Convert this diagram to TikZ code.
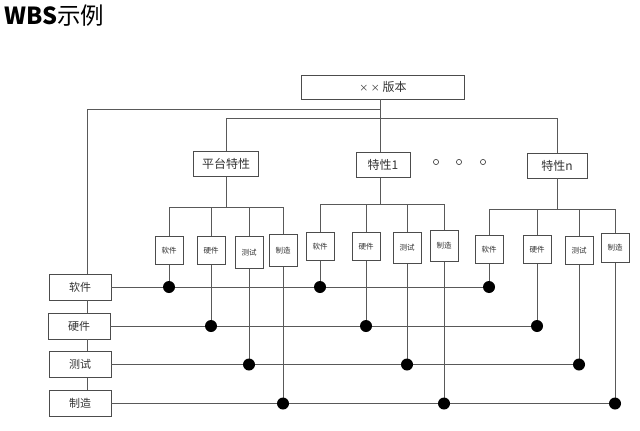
\documentclass[tikz,border=0pt]{standalone}
\usepackage{fontspec}
\setmainfont{Noto Sans CJK SC}
\begin{document}
\begin{tikzpicture}[x=1pt,y=-1pt,
  line/.style={draw=black!65,line width=0.8pt},
  box/.style={draw=black!70,line width=0.8pt,fill=white,inner sep=0pt,text=black!80},
  topbox/.style={box,minimum width=163pt,minimum height=24pt,font=\fontsize{12}{14}\selectfont},
  featbox/.style={box,minimum height=25pt,font=\fontsize{12}{14}\selectfont},
  subbox/.style={box,anchor=north,minimum width=28pt,minimum height=28pt,font=\fontsize{7.5}{9}\selectfont},
  leftbox/.style={box,minimum width=62pt,minimum height=26pt,font=\fontsize{11}{13}\selectfont},
  dot/.style={fill=black},
  ring/.style={draw=black!70,line width=0.7pt}]
\useasboundingbox (0,0) rectangle (640,431);
\node[anchor=west,inner sep=0pt,font=\fontsize{23.5}{26}\selectfont] (title) at (4,16) {\textbf{WBS}示例};
% top
\node[topbox] (top) at (383,87) {{\small×} {\small×} 版本};
\node[featbox,minimum width=65pt] (pt) at (226,164) {平台特性};
\node[featbox,minimum width=54pt] (f1) at (383,165) {特性1};
\node[featbox,minimum width=60pt] (fn) at (557,165.5) {特性n};
% left boxes
\node[leftbox] (L1) at (80,287) {软件};
\node[leftbox] (L2) at (79,326) {硬件};
\node[leftbox] (L3) at (80,364.5) {测试};
\node[leftbox] (L4) at (80,403.5) {制造};
% sub boxes
\node[subbox] (p1) at (169,236) {软件};
\node[subbox] (p2) at (211,236) {硬件};
\node[subbox,minimum height=32pt] (p3) at (249,236) {测试};
\node[subbox,minimum height=32pt] (p4) at (283,234) {制造};
\node[subbox] (a1) at (320,232) {软件};
\node[subbox] (a2) at (366,232) {硬件};
\node[subbox,minimum height=31pt] (a3) at (407,232) {测试};
\node[subbox,minimum height=31pt] (a4) at (444,230) {制造};
\node[subbox] (n1) at (489,235) {软件};
\node[subbox] (n2) at (537,235) {硬件};
\node[subbox] (n3) at (579,236) {测试};
\node[subbox,minimum height=29pt] (n4) at (615,233) {制造};
% dots between features
\draw[ring] (436,162) circle (2.6pt) (459,162) circle (2.6pt) (483,162) circle (2.6pt);
% coordinates
\coordinate (jl) at (380,109);
\coordinate (lx) at (87,109);
\coordinate (bus) at (0,118);
\coordinate (hp) at (0,207);
\coordinate (ha) at (0,204);
\coordinate (hn) at (0,209);
% top connections
\draw[line] (top.south -| jl) -- (f1.north -| jl);
\draw[line] (jl) -- (lx) -- (lx |- L1.north);
\draw[line] (lx |- L1.south) -- (lx |- L2.north);
\draw[line] (lx |- L2.south) -- (lx |- L3.north);
\draw[line] (lx |- L3.south) -- (lx |- L4.north);
\draw[line] (pt.north |- bus) -- (fn.north |- bus);
\draw[line] (pt.north |- bus) -- (pt.north);
\draw[line] (fn.north |- bus) -- (fn.north);
% feature to sub
\draw[line] (pt.south) -- (pt.south |- hp);
\draw[line] (p1.north |- hp) -- (p4.north |- hp);
\foreach \s in {p1,p2,p3,p4} \draw[line] (\s.north |- hp) -- (\s.north);
\draw[line] (f1.south -| jl) -- (jl |- ha);
\draw[line] (a1.north |- ha) -- (a4.north |- ha);
\foreach \s in {a1,a2,a3,a4} \draw[line] (\s.north |- ha) -- (\s.north);
\draw[line] (fn.south) -- (fn.south |- hn);
\draw[line] (n1.north |- hn) -- (n4.north |- hn);
\foreach \s in {n1,n2,n3,n4} \draw[line] (\s.north |- hn) -- (\s.north);
% rows
\draw[line] (L1.east) -- (n1.south |- L1.east);
\draw[line] (L2.east) -- (n2.south |- L2.east);
\draw[line] (L3.east) -- (n3.south |- L3.east);
\draw[line] (L4.east) -- (n4.south |- L4.east);
\foreach \s/\r in {p1/L1,a1/L1,n1/L1,p2/L2,a2/L2,n2/L2,p3/L3,a3/L3,n3/L3,p4/L4,a4/L4,n4/L4}{
  \draw[line] (\s.south) -- (\s.south |- \r.east);
  \fill[dot] (\s.south |- \r.east) circle (6pt);
}
\end{tikzpicture}
\end{document}
